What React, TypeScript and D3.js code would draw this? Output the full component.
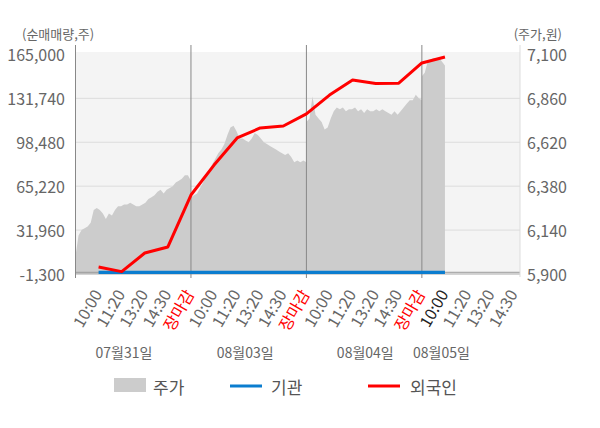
import React from 'react';
import * as d3 from 'd3';

// trading days shown on the x axis
const dates = ['07월31일', '08월03일', '08월04일', '08월05일'];
const slotLabels = ['10:00', '11:20', '13:20', '14:30', '장마감'];

// net volume (shares) at each slot, from 07/31 10:00 to 08/05 10:00
const foreign = [
  4000, 500, 14600, 19200, 58500,
  81200, 101700, 109300, 110800, 119900,
  134200, 145600, 143000, 143200, 158500,
  163000,
];
const institution = [
  0, 0, 0, 0, 0,
  0, 0, 0, 0, 0,
  0, 0, 0, 0, 0,
  0,
];

// intraday price (won), sampled evenly through each session
const priceDay1 = [
  6000, 6110, 6140, 6150, 6160, 6180, 6250, 6260, 6250, 6230,
  6200, 6230, 6220, 6250, 6270, 6270, 6280, 6280, 6290, 6280,
  6270, 6270, 6280, 6290, 6310, 6320, 6330, 6350, 6360, 6340,
  6360, 6370, 6380, 6400, 6410, 6420, 6440, 6440, 6410,
];
const priceDay2 = [
  6320, 6330, 6340, 6370, 6400, 6440, 6470, 6500, 6530, 6560,
  6580, 6610, 6660, 6700, 6710, 6680, 6640, 6640, 6630, 6620,
  6640, 6670, 6660, 6640, 6620, 6610, 6600, 6590, 6580, 6570,
  6560, 6550, 6560, 6540, 6510, 6520, 6510, 6520, 6510,
];
const priceDay3 = [
  6730, 6750, 6870, 6770, 6750, 6730, 6690, 6700, 6750, 6790,
  6810, 6800, 6810, 6790, 6800, 6800, 6810, 6790, 6800, 6780,
  6800, 6790, 6790, 6800, 6790, 6800, 6790, 6780, 6770, 6790,
  6770, 6790, 6810, 6830, 6850, 6850, 6880, 6860, 6850,
];
const priceDay4 = [6980, 7000, 7060, 7070, 7080, 7080, 7080, 7060, 7040];

const volTicks = [-1300, 31960, 65220, 98480, 131740, 165000];
const priceTicks = [5900, 6140, 6380, 6620, 6860, 7100];

const W = 600;
const H = 428;
const font = '"Noto Sans CJK KR", "Noto Sans", sans-serif';
const slotStep = 0.2; // fraction of a session between slots
const dateLabelAt = [0.42, 1.47, 2.51, 3.17];

export default function App() {
  const x = d3.scaleLinear().domain([0, 3.85]).range([75.5, 520]);
  const yVol = d3.scaleLinear().domain([-1300, 165000]).range([274, 54.4]);
  const yPrice = d3.scaleLinear().domain([5900, 7100]).range([274, 54.4]);
  const fmt = (v: number) => d3.format(',')(v).replace('−', '-');

  const sessions = [priceDay1, priceDay2, priceDay3, priceDay4];
  // the last session only runs to its first slot (10:00)
  const pricePts = sessions.flatMap((arr, d) => {
    const span = d === sessions.length - 1 ? slotStep : 1;
    return arr.map((p, i) => ({ t: d + (span * i) / (arr.length - 1), p }));
  });

  const slotT = (j: number) => Math.floor(j / 5) + ((j % 5) + 1) * slotStep;

  const area = d3.area<{ t: number; p: number }>()
    .x(d => x(d.t))
    .y0(yPrice(5900))
    .y1(d => yPrice(d.p));

  const line = d3.line<number>()
    .x((_, j) => x(slotT(j)))
    .y(v => yVol(v));

  const ticks: { t: number; label: string; color: string }[] = [];
  dates.forEach((_, d) => {
    slotLabels.forEach((label, k) => {
      const t = d + (k + 1) * slotStep;
      if (t > 3.85) return;
      let color = '#666';
      if (label === '장마감') color = '#ff0000';
      if (d === 3 && k === 0) color = '#222';
      ticks.push({ t, label, color });
    });
  });

  const [x0, x1] = x.range();
  const top = 52;
  const bottom = yVol(-1300);

  return (
    <svg width={W} height={H} style={{ position: 'absolute', left: 0, top: 0, fontFamily: font }}>
      <rect x={x0} y={top} width={x1 - x0} height={bottom - top} fill="#f4f4f4" />

      {volTicks.slice(1, -1).map(v => (
        <line key={v} x1={x0} x2={x1} y1={yVol(v)} y2={yVol(v)} stroke="#dcdcdc" strokeWidth={1} />
      ))}

      <path d={area(pricePts) || ''} fill="#cccccc" />

      {/* zero line and bottom axis */}
      <line x1={x0} x2={x1} y1={yVol(0)} y2={yVol(0)} stroke="#999" strokeWidth={1} />
      <line x1={x0} x2={x1} y1={bottom} y2={bottom} stroke="#aaa" strokeWidth={1} />

      {/* session separators */}
      {[0, 1, 2, 3].map(d => (
        <line key={d} x1={x(d)} x2={x(d)} y1={45} y2={278} stroke="#888" strokeWidth={1} />
      ))}
      <line x1={x1} x2={x1} y1={45} y2={277} stroke="#ddd" strokeWidth={1} />

      <path d={line(institution) || ''} fill="none" stroke="#0b7dcf" strokeWidth={3.2} />
      <path d={line(foreign) || ''} fill="none" stroke="#ff0000" strokeWidth={3} strokeLinejoin="round" />

      {volTicks.map(v => (
        <text key={v} x={65} y={yVol(v)} textAnchor="end" dominantBaseline="central" fontSize={16} fill="#666">
          {fmt(v)}
        </text>
      ))}
      {priceTicks.map(v => (
        <text key={v} x={527} y={yPrice(v)} textAnchor="start" dominantBaseline="central" fontSize={16} fill="#666">
          {fmt(v)}
        </text>
      ))}

      <text x={22} y={39} fontSize={13} fill="#666">(순매매량,주)</text>
      <text x={562} y={39} fontSize={13} fill="#666" textAnchor="end">(주가,원)</text>

      {ticks.map(tk => {
        const ax = x(tk.t) + 4;
        const ay = 294;
        return (
          <text key={tk.t} x={ax} y={ay} textAnchor="end" fontSize={16} fill={tk.color}
            transform={`rotate(-60, ${ax}, ${ay})`}>
            {tk.label}
          </text>
        );
      })}

      {dates.map((dt, d) => (
        <text key={dt} x={x(dateLabelAt[d])} y={358} textAnchor="middle" fontSize={14} fill="#666">
          {dt}
        </text>
      ))}

      {/* legend */}
      <rect x={114} y={378} width={32} height={14} fill="#cccccc" />
      <text x={153} y={386} dominantBaseline="central" fontSize={17} fill="#555">주가</text>
      <line x1={230} x2={262} y1={386} y2={386} stroke="#0b7dcf" strokeWidth={3} />
      <text x={271} y={386} dominantBaseline="central" fontSize={17} fill="#555">기관</text>
      <line x1={368} x2={400} y1={386} y2={386} stroke="#ff0000" strokeWidth={3} />
      <text x={410} y={386} dominantBaseline="central" fontSize={17} fill="#555">외국인</text>
    </svg>
  );
}
